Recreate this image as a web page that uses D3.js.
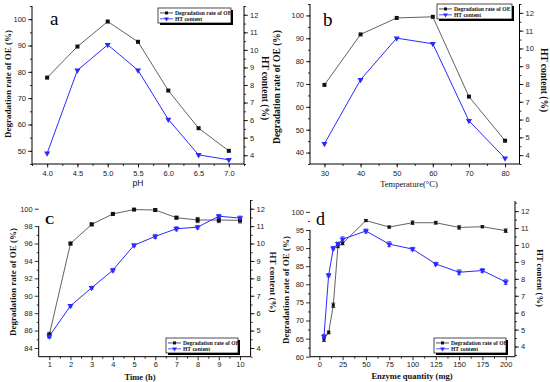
<!DOCTYPE html>
<html><head><meta charset="utf-8">
<script src="https://cdn.jsdelivr.net/npm/d3@7"></script>
<style>html,body{margin:0;padding:0;background:#fff}svg{display:block}</style>
</head><body>
<svg id="c" width="550" height="382"></svg>
<script>
// ---- data ----
const phX = [4.0, 4.5, 5.0, 5.5, 6.0, 6.5, 7.0];
const phDeg = [77.8, 89.6, 99.1, 91.4, 72.9, 58.6, 50.0];
const phHT = [4.11, 8.84, 10.29, 8.84, 6.04, 4.02, 3.74];

const tempX = [30, 40, 50, 60, 70, 80];
const tempDeg = [69.6, 91.7, 98.9, 99.4, 64.5, 45.2];
const tempHT = [4.64, 8.24, 10.58, 10.26, 5.93, 3.82];

const timeX = [1, 2, 3, 4, 5, 6, 7, 8, 9, 10];
const timeDeg = [85.5, 96.0, 98.2, 99.4, 99.9, 99.85, 98.97, 98.7, 98.7, 98.66];
const timeDegErr = [0.3, 0.15, 0.15, 0.15, 0.1, 0.15, 0.15, 0.3, 0.3, 0.3];
const timeHT = [4.68, 6.42, 7.46, 8.47, 9.9, 10.41, 10.85, 10.94, 11.57, 11.46];
const timeHTErr = [0.12, 0.08, 0.08, 0.1, 0.08, 0.12, 0.12, 0.1, 0.1, 0.12];

const enzX = [5, 10, 15, 20, 25, 50, 75, 100, 125, 150, 175, 200];
const enzDeg = [64.8, 66.7, 74.2, 90.5, 91.3, 97.6, 95.8, 97.0, 97.0, 95.7, 95.9, 94.8];
const enzDegErr = [0.6, 0.4, 0.6, 0.4, 0.4, 0.3, 0.3, 0.5, 0.4, 0.5, 0.3, 0.5];
const enzHT = [4.6, 8.21, 9.81, 10.07, 10.34, 10.83, 10.05, 9.76, 8.88, 8.39, 8.49, 7.82];
const enzHTErr = [0.12, 0.1, 0.1, 0.1, 0.15, 0.12, 0.15, 0.1, 0.1, 0.15, 0.12, 0.15];

const seriesNames = ["Degradation rate of OE", "HT content"];
const leftTitle = "Degradation rate of OE (%)";
const rightTitle = "HT content (%)";

const phTicks = [4.0, 4.5, 5.0, 5.5, 6.0, 6.5, 7.0];
const tempTicks = [30, 40, 50, 60, 70, 80];
const timeTicks = [1, 2, 3, 4, 5, 6, 7, 8, 9, 10];
const enzTicks = [0, 25, 50, 75, 100, 125, 150, 175, 200];
const rightTicks = [4, 5, 6, 7, 8, 9, 10, 11, 12];

const svg = d3.select("#c");
const BLUE = "#2a2aff";

function range(a, b, s) { const r = []; for (let v = a; v <= b + 1e-9; v += s) r.push(+v.toFixed(4)); return r; }

function panel(cfg) {
  const g = svg.append("g");
  const x = d3.scaleLinear().domain(cfg.xd).range([cfg.l, cfg.r]);
  const yL = d3.scaleLinear().domain(cfg.yLd).range([cfg.b, cfg.t]);
  const yR = d3.scaleLinear().domain(cfg.yRd).range([cfg.b, cfg.t]);
  const tickFont = "Liberation Sans, Arial, sans-serif";

  // left axis
  const ax = g.append("g").attr("transform", `translate(${cfg.l},0)`)
    .call(d3.axisLeft(yL).tickValues(cfg.yLt).tickSize(4).tickPadding(2).tickFormat(cfg.yLf || d3.format("d")));
  ax.select(".domain").remove();
  g.append("g").attr("transform", `translate(${cfg.l},0)`)
    .call(d3.axisLeft(yL).tickValues(cfg.yLm).tickSize(2).tickFormat("")).select(".domain").remove();
  g.append("line").attr("x1", cfg.l).attr("x2", cfg.l).attr("y1", yL(cfg.yLtop !== undefined ? cfg.yLtop : cfg.yLd[1])).attr("y2", cfg.b).attr("stroke", "#000");

  // right axis
  const ar = g.append("g").attr("transform", `translate(${cfg.r},0)`)
    .call(d3.axisRight(yR).tickValues(rightTicks).tickSize(4).tickPadding(2).tickFormat(d3.format("d")));
  ar.select(".domain").remove();
  g.append("g").attr("transform", `translate(${cfg.r},0)`)
    .call(d3.axisRight(yR).tickValues(range(3.5, 12.5, 0.5)).tickSize(2).tickFormat("")).select(".domain").remove();
  g.append("line").attr("x1", cfg.r).attr("x2", cfg.r).attr("y1", cfg.t).attr("y2", cfg.b).attr("stroke", "#000");

  // bottom axis
  const abx = g.append("g").attr("transform", `translate(0,${cfg.b})`)
    .call(d3.axisBottom(x).tickValues(cfg.xt).tickSize(3.5).tickPadding(cfg.xpad || 3).tickFormat(cfg.xf || d3.format("d")));
  abx.select(".domain").remove();
  g.append("g").attr("transform", `translate(0,${cfg.b})`)
    .call(d3.axisBottom(x).tickValues(cfg.xm).tickSize(2).tickFormat("")).select(".domain").remove();
  g.append("line").attr("x1", cfg.l).attr("x2", cfg.r).attr("y1", cfg.b).attr("y2", cfg.b).attr("stroke", "#000");

  g.selectAll(".tick line").attr("stroke", "#000").attr("stroke-width", 0.8);
  g.selectAll(".tick text").attr("font-family", tickFont).attr("font-size", 7.5).attr("fill", "#222");

  // titles
  g.append("text").attr("transform", `translate(${cfg.ltx},${cfg.lty}) rotate(-90)`)
    .attr("text-anchor", "middle").attr("font-family", "Liberation Serif, Times New Roman, serif")
    .attr("font-weight", "bold").attr("font-size", cfg.ltfs).attr("fill", "#111").text(leftTitle);
  g.append("text").attr("transform", `translate(${cfg.rtx},${cfg.rty}) rotate(90)`)
    .attr("text-anchor", "middle").attr("font-family", "Liberation Serif, Times New Roman, serif")
    .attr("font-weight", "bold").attr("font-size", cfg.rtfs).attr("fill", "#111").text(rightTitle);
  g.append("text").attr("x", cfg.xtx).attr("y", cfg.xty).attr("text-anchor", "middle")
    .attr("font-family", cfg.xtFont).attr("font-weight", cfg.xtWeight).attr("font-size", cfg.xtfs)
    .attr("fill", "#111").text(cfg.xTitle);
  g.append("text").attr("x", cfg.lbx).attr("y", cfg.lby)
    .attr("font-family", "Liberation Serif, Times New Roman, serif").attr("font-size", cfg.lbfs)
    .attr("font-weight", cfg.lbw || "normal").attr("fill", "#000").text(cfg.label);

  // lines
  const xs = cfg.xs;
  const lineL = d3.line().x((d, i) => x(xs[i])).y(d => yL(d));
  const lineR = d3.line().x((d, i) => x(xs[i])).y(d => yR(d));
  g.append("path").attr("d", lineL(cfg.deg)).attr("fill", "none").attr("stroke", "#3a3a3a").attr("stroke-width", 0.8);
  g.append("path").attr("d", lineR(cfg.ht)).attr("fill", "none").attr("stroke", BLUE).attr("stroke-width", 1);

  // error bars
  if (cfg.degErr) {
    cfg.deg.forEach((v, i) => {
      const px = x(xs[i]), e = cfg.degErr[i];
      g.append("line").attr("x1", px).attr("x2", px).attr("y1", yL(v - e)).attr("y2", yL(v + e)).attr("stroke", "#000").attr("stroke-width", 0.7);
      [v - e, v + e].forEach(w => g.append("line").attr("x1", px - 2).attr("x2", px + 2).attr("y1", yL(w)).attr("y2", yL(w)).attr("stroke", "#000").attr("stroke-width", 0.7));
    });
  }
  if (cfg.htErr) {
    cfg.ht.forEach((v, i) => {
      const px = x(xs[i]), e = cfg.htErr[i];
      g.append("line").attr("x1", px).attr("x2", px).attr("y1", yR(v - e)).attr("y2", yR(v + e)).attr("stroke", BLUE).attr("stroke-width", 0.7);
      [v - e, v + e].forEach(w => g.append("line").attr("x1", px - 2).attr("x2", px + 2).attr("y1", yR(w)).attr("y2", yR(w)).attr("stroke", BLUE).attr("stroke-width", 0.7));
    });
  }

  // markers
  const ms = cfg.ms || 4;
  g.selectAll(null).data(cfg.deg).enter().append("rect")
    .attr("x", (d, i) => x(xs[i]) - ms / 2).attr("y", d => yL(d) - ms / 2)
    .attr("width", ms).attr("height", ms).attr("fill", "#111");
  const tri = d3.symbol().type(d3.symbolTriangle).size(cfg.ts || 16);
  g.selectAll(null).data(cfg.ht).enter().append("path")
    .attr("d", tri).attr("transform", (d, i) => `translate(${x(xs[i])},${yR(d)}) rotate(180)`)
    .attr("fill", BLUE);

  // legend
  const L = cfg.leg;
  g.append("rect").attr("x", L.x + 2).attr("y", L.y + 2).attr("width", L.w).attr("height", L.h).attr("fill", "#000");
  g.append("rect").attr("x", L.x).attr("y", L.y).attr("width", L.w).attr("height", L.h).attr("fill", "#fff").attr("stroke", "#000").attr("stroke-width", 0.7);
  seriesNames.forEach((name, i) => {
    const yy = L.y + L.h * (i === 0 ? 0.33 : 0.72);
    const col = i === 0 ? "#222" : BLUE;
    g.append("line").attr("x1", L.x + 2).attr("x2", L.x + 15).attr("y1", yy).attr("y2", yy).attr("stroke", col).attr("stroke-width", 0.8);
    if (i === 0) g.append("rect").attr("x", L.x + 7).attr("y", yy - 1.5).attr("width", 3).attr("height", 3).attr("fill", "#111");
    else g.append("path").attr("d", d3.symbol().type(d3.symbolTriangle).size(10)).attr("transform", `translate(${L.x + 8.5},${yy}) rotate(180)`).attr("fill", BLUE);
    g.append("text").attr("x", L.x + 17).attr("y", yy + 2).attr("font-family", "Liberation Serif, Times New Roman, serif")
      .attr("font-weight", "bold").attr("font-size", L.fs).attr("fill", "#111").text(name);
  });
}

panel({
  l: 32, r: 244, t: 6, b: 164,
  xd: [3.75, 7.25], yLd: [45, 105], yRd: [3.5, 12.5],
  xt: phTicks, xm: range(3.75, 7.25, 0.25), xf: d3.format(".1f"),
  yLt: [50, 60, 70, 80, 90, 100], yLm: range(45, 105, 5),
  xs: phX, deg: phDeg, ht: phHT,
  ltx: 11, lty: 84, ltfs: 9, rtx: 262, rty: 88, rtfs: 9.5,
  xTitle: "pH", xtx: 138, xty: 186, xtfs: 8.5, xtFont: "Liberation Sans, Arial, sans-serif", xtWeight: "normal",
  label: "a", lbx: 50, lby: 25, lbfs: 19,
  leg: { x: 158, y: 8, w: 73, h: 15, fs: 5.6 }
});

panel({
  l: 310, r: 519.5, t: 4, b: 164,
  xd: [26, 84], yLd: [35, 105], yRd: [3.5, 12.5],
  xt: tempTicks, xm: range(30, 80, 5),
  yLt: [40, 50, 60, 70, 80, 90, 100], yLm: range(35, 105, 5),
  xs: tempX, deg: tempDeg, ht: tempHT,
  ltx: 280, lty: 87, ltfs: 9.5, rtx: 541, rty: 80, rtfs: 9.5,
  xTitle: "Temperature(°C)", xtx: 409, xty: 187, xtfs: 8.5, xtFont: "Liberation Serif, Times New Roman, serif", xtWeight: "normal",
  label: "b", lbx: 323, lby: 26, lbfs: 19,
  leg: { x: 437, y: 4, w: 75, h: 15, fs: 5.6 }
});

panel({
  l: 38.7, r: 250.6, t: 200, b: 356.7,
  xd: [0.5, 10.5], yLd: [83, 101], yRd: [3.5, 12.5], yLtop: 98,
  xt: timeTicks, xm: range(1.5, 9.5, 1), xpad: 1.5,
  yLt: [84, 86, 88, 90, 92, 94, 96, 98, 100], yLm: range(85, 97, 2),
  xs: timeX, deg: timeDeg, ht: timeHT, degErr: timeDegErr, htErr: timeHTErr,
  ltx: 16, lty: 282, ltfs: 9, rtx: 270, rty: 282, rtfs: 9,
  xTitle: "Time (h)", xtx: 140, xty: 379.5, xtfs: 8.5, xtFont: "Liberation Serif, Times New Roman, serif", xtWeight: "bold",
  label: "C", lbx: 45, lby: 224, lbfs: 13, lbw: "bold",
  leg: { x: 166, y: 338, w: 72, h: 15, fs: 5.6 }
});

panel({
  l: 310, r: 515, t: 201, b: 356.7,
  xd: [-10, 210], yLd: [60, 103], yRd: [3.4, 12.6], yLtop: 95,
  xt: enzTicks, xm: range(12.5, 187.5, 25), xf: d3.format("d"), xpad: 1.5,
  yLt: [60, 65, 70, 75, 80, 85, 90, 95, 100], yLm: range(62.5, 97.5, 5),
  xs: enzX, deg: enzDeg, ht: enzHT, degErr: enzDegErr, htErr: enzHTErr, ms: 3,
  ltx: 289, lty: 290, ltfs: 9, rtx: 537, rty: 278, rtfs: 8.5,
  xTitle: "Enzyme quantity (mg)", xtx: 412, xty: 379, xtfs: 8.5, xtFont: "Liberation Serif, Times New Roman, serif", xtWeight: "bold",
  label: "d", lbx: 316, lby: 225, lbfs: 18,
  leg: { x: 434, y: 338, w: 72, h: 15, fs: 5.6 }
});
</script>
</body></html>
